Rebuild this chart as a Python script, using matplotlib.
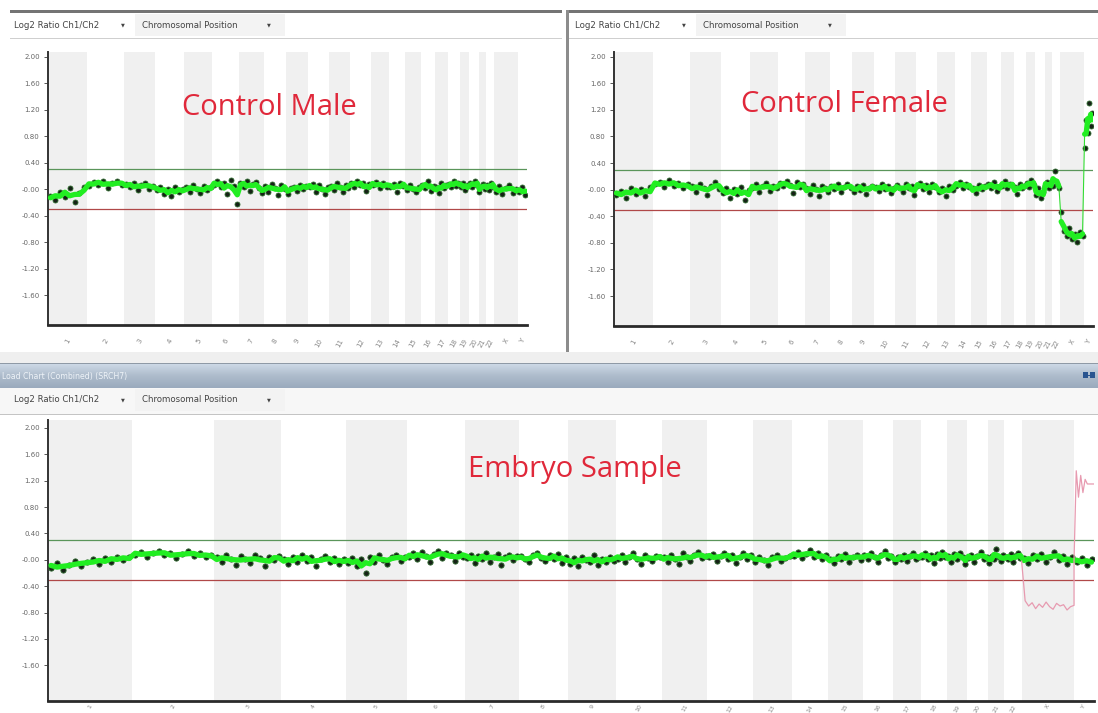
import numpy as np
import pandas as pd
import matplotlib
matplotlib.use("Agg")
import matplotlib.pyplot as plt
from matplotlib.patches import Rectangle

# ---------------- data ----------------
chrom_names = [str(i) for i in range(1, 23)] + ["X", "Y"]
chrom_sizes_mb = [249, 243, 198, 191, 181, 171, 159, 146, 141, 136, 135, 134,
                  115, 107, 103, 90, 81, 78, 59, 63, 48, 51, 155, 59]
ytick_values = [2.0, 1.6, 1.2, 0.8, 0.4, 0.0, -0.4, -0.8, -1.2, -1.6]
ytick_labels = ["2.00", "1.60", "1.20", "0.80", "0.40", "-0.00",
                "-0.40", "-0.80", "-1.20", "-1.60"]
upper_threshold = 0.3
lower_threshold = -0.3

male_log2 = [
    [-0.10, -0.16, -0.04, -0.12, 0.02, -0.20, -0.06, 0.03],
    [0.05, 0.11, 0.07, 0.13, 0.02, 0.09, 0.12, 0.06],
    [0.08, 0.03, 0.10, -0.02, 0.06, 0.09, 0.01, 0.05],
    [-0.02, 0.04, -0.07, 0.01, -0.10, 0.03, -0.05, 0.00],
    [0.03, -0.04, 0.07, 0.00, -0.06, 0.05, -0.02, 0.04],
    [0.06, 0.12, 0.03, 0.10, -0.08, 0.14, 0.05, -0.22],
    [0.09, 0.04, 0.13, -0.03, 0.08, 0.11, 0.02, -0.06],
    [0.05, -0.05, 0.08, 0.02, -0.09, 0.06, 0.01],
    [-0.08, 0.02, 0.04, -0.03, 0.07, 0.00, 0.05],
    [0.03, 0.08, -0.04, 0.06, 0.01, -0.07, 0.04],
    [0.05, -0.02, 0.09, 0.03, -0.05, 0.07, 0.02],
    [0.10, 0.04, 0.12, 0.06, 0.09, -0.03, 0.08],
    [0.06, 0.11, 0.02, 0.09, 0.04],
    [0.03, 0.08, -0.04, 0.10, 0.05],
    [-0.02, 0.06, 0.01, -0.05, 0.04],
    [0.07, 0.02, 0.12, -0.03, 0.05],
    [0.04, -0.06, 0.09, 0.02, 0.06],
    [0.08, 0.03, 0.13, 0.05, 0.10],
    [0.04, 0.10, -0.02, 0.07],
    [0.09, 0.03, 0.12, 0.06],
    [-0.05, 0.04, 0.08, 0.01],
    [0.06, -0.02, 0.10, 0.04],
    [-0.04, 0.05, -0.08, 0.02, 0.07, -0.06, 0.01],
    [-0.05, 0.03, -0.09],
]

female_log2 = [
    [-0.08, -0.02, -0.12, 0.03, -0.06, 0.01, -0.10, 0.04],
    [0.08, 0.12, 0.04, 0.15, 0.06, 0.10, 0.02, 0.09],
    [0.06, -0.03, 0.09, 0.02, -0.08, 0.05, 0.11, 0.01],
    [-0.05, 0.03, -0.12, 0.01, -0.06, 0.04, -0.15, 0.00],
    [0.02, 0.08, -0.04, 0.06, 0.10, -0.02, 0.05, 0.03],
    [0.10, 0.05, 0.13, 0.07, -0.05, 0.11, 0.04, 0.09],
    [0.03, -0.06, 0.07, 0.01, -0.09, 0.05, 0.02, -0.03],
    [0.06, 0.01, 0.09, -0.04, 0.04, 0.08, 0.02],
    [-0.03, 0.05, 0.00, 0.07, -0.06, 0.03, 0.06],
    [0.04, -0.02, 0.08, 0.01, 0.06, -0.05, 0.03],
    [0.07, 0.02, -0.04, 0.09, 0.03, 0.05, -0.08],
    [0.05, 0.10, 0.01, 0.07, -0.03, 0.08, 0.04],
    [-0.04, 0.03, -0.09, 0.05, 0.00],
    [0.06, 0.12, 0.02, 0.09, 0.04],
    [0.03, -0.05, 0.07, 0.01, 0.05],
    [0.08, 0.03, 0.11, -0.02, 0.06],
    [0.05, 0.13, 0.02, 0.09, 0.07],
    [0.04, -0.06, 0.08, 0.02, 0.06],
    [0.10, 0.04, 0.14, 0.07],
    [-0.08, 0.02, -0.12, -0.03],
    [0.06, 0.12, 0.03, 0.09],
    [0.05, 0.28, 0.08, 0.02],
    [-0.34, -0.62, -0.70, -0.58, -0.74, -0.66, -0.78, -0.64, -0.69],
    [0.62, 1.05, 0.85, 1.30, 0.95, 1.15],
]

embryo_log2 = [
    [-0.12, -0.05, -0.16, -0.08, -0.02, -0.10, -0.04, 0.01, -0.07, 0.03, -0.03, 0.05, 0.00, 0.04],
    [0.08, 0.12, 0.05, 0.10, 0.14, 0.07, 0.11, 0.03, 0.09, 0.13, 0.06, 0.10, 0.04, 0.08],
    [0.05, -0.04, 0.08, 0.02, -0.08, 0.06, 0.01, -0.05, 0.07, 0.03, -0.10, 0.04, 0.00, 0.06],
    [0.02, -0.06, 0.05, -0.03, 0.08, -0.02, 0.04, -0.09, 0.01, 0.06, -0.04, 0.03, -0.07, 0.02],
    [-0.05, 0.03, -0.10, 0.02, -0.20, 0.05, -0.03, 0.07, 0.00, -0.06, 0.04, 0.08, -0.02, 0.05],
    [0.04, 0.10, 0.01, 0.12, 0.06, -0.04, 0.09, 0.14, 0.03, 0.11, 0.07, -0.02, 0.10, 0.05],
    [0.03, 0.08, -0.05, 0.06, 0.01, 0.10, -0.03, 0.05, 0.09, -0.08, 0.04, 0.07, 0.00, 0.06],
    [0.06, 0.02, -0.04, 0.08, 0.11, 0.03, -0.02, 0.07, 0.01, 0.09, -0.05, 0.04],
    [-0.06, 0.03, -0.10, 0.05, 0.00, -0.04, 0.07, -0.08, 0.02, -0.03, 0.04, -0.01],
    [0.02, 0.07, -0.03, 0.05, 0.10, 0.01, -0.06, 0.08, 0.03, -0.02, 0.06, 0.04],
    [0.05, -0.03, 0.08, 0.02, -0.06, 0.10, 0.04, -0.01, 0.07, 0.12, 0.03, 0.06],
    [0.04, 0.09, -0.02, 0.06, 0.11, 0.01, 0.08, -0.05, 0.05, 0.10, 0.02, 0.07],
    [-0.03, 0.05, 0.00, -0.08, 0.04, 0.07, -0.02, 0.03, 0.06],
    [0.06, 0.12, 0.03, 0.09, 0.15, 0.04, 0.10, 0.01, 0.07],
    [0.02, -0.05, 0.06, 0.01, 0.09, -0.03, 0.05, 0.08, 0.00],
    [0.07, 0.02, 0.11, 0.04, -0.04, 0.08, 0.13, 0.03, 0.06],
    [-0.04, 0.05, 0.01, 0.08, -0.02, 0.06, 0.10, 0.02, 0.05],
    [0.05, 0.10, 0.02, 0.07, -0.05, 0.09, 0.03, 0.12, 0.04],
    [0.06, -0.03, 0.09, 0.02, 0.11, 0.04, -0.06],
    [0.03, 0.08, -0.04, 0.06, 0.12, 0.01, 0.05],
    [-0.05, 0.06, 0.02, 0.16, 0.04, -0.02, 0.07],
    [0.05, 0.01, 0.09, -0.04, 0.06, 0.10, 0.03],
    [0.03, -0.05, 0.07, 0.01, 0.09, -0.03, 0.05, 0.12, 0.00, 0.06, -0.06, 0.04],
    [-0.04, 0.03, -0.08, 0.01],
]

# reference overlay (pink trace) on the sex chromosomes of the embryo panel
overlay_x_log2 = [-0.02, -0.62, -0.70, -0.65, -0.74, -0.67, -0.72, -0.64,
                  -0.71, -0.75, -0.66, -0.70, -0.68, -0.76, -0.71, -0.69]
overlay_y_log2 = [0.0, 1.35, 0.95, 1.28, 1.02, 1.22, 1.15, 1.15, 1.15, 1.15]

panel_titles = ["Control Male", "Control Female", "Embryo Sample"]

# ---------------- helpers ----------------
W, H = 1098, 713
sizes = np.array(chrom_sizes_mb, dtype=float)
starts = np.concatenate([[0], np.cumsum(sizes)[:-1]])
genome_len = sizes.sum()
centers = starts + sizes / 2


def positions(values_by_chrom):
    xs, ys, smooth = [], [], []
    for i, vals in enumerate(values_by_chrom):
        n = len(vals)
        x = starts[i] + (np.arange(n) + 0.5) / n * sizes[i]
        xs.append(x)
        ys.append(np.array(vals))
        smooth.append(pd.Series(vals).rolling(3, center=True, min_periods=1).mean().values)
    return np.concatenate(xs), np.concatenate(ys), np.concatenate(smooth)


def px_axes(fig, x0, y0, x1, y1):
    return fig.add_axes([x0 / W, 1 - y1 / H, (x1 - x0) / W, (y1 - y0) / H])


def style_chart(ax, ylim, xpad=9, xsize=5.0):
    ax.set_facecolor("white")
    ax.set_xlim(0, genome_len)
    ax.set_ylim(*ylim)
    for i in range(len(sizes)):
        if i % 2 == 0:
            ax.axvspan(starts[i], starts[i] + sizes[i], color="#f0f0f0", lw=0, zorder=0)
    ax.axhline(upper_threshold, color="#5a955a", lw=0.9, zorder=2)
    ax.axhline(lower_threshold, color="#b04848", lw=0.9, zorder=2)
    ax.set_yticks(ytick_values)
    ax.set_yticklabels(ytick_labels)
    ax.set_xticks(centers)
    ax.set_xticklabels(chrom_names, rotation=60, ha="center", va="top")
    ax.tick_params(axis="y", length=3, width=0.7, color="#555555", labelsize=5,
                   labelcolor="#666666", pad=3)
    ax.tick_params(axis="x", length=0, labelsize=xsize, labelcolor="#888888", pad=xpad)
    for s in ("top", "right"):
        ax.spines[s].set_visible(False)
    ax.spines["left"].set_color("#333333")
    ax.spines["left"].set_linewidth(1.4)
    ax.spines["bottom"].set_color("#2a2a2a")
    ax.spines["bottom"].set_linewidth(2.0)


def draw_series(ax, values_by_chrom, msize=3.6):
    x, y, sm = positions(values_by_chrom)
    ax.plot(x, y, ls="none", marker="o", ms=msize, mfc="#162216", mec="#2f6a2f",
            mew=0.6, zorder=3)
    ax.plot(x, sm, color="#33dd33", lw=0.8, zorder=4)
    thick = sm.copy().astype(float)
    jumps = np.where(np.abs(np.diff(sm)) > 0.25)[0]
    xs_t = np.insert(x.astype(float), jumps + 1, np.nan)
    thick = np.insert(thick, jumps + 1, np.nan)
    ax.plot(xs_t, thick, color="#22ee22", lw=3.8, zorder=5, solid_capstyle="round")


# ---------------- figure ----------------
fig = plt.figure(figsize=(W / 100, H / 100), dpi=100)
fig.patch.set_facecolor("white")

bg = fig.add_axes([0, 0, 1, 1])
bg.set_xlim(0, W)
bg.set_ylim(H, 0)
bg.axis("off")

ui_font = "DejaVu Sans"
# top panels frame
bg.add_patch(Rectangle((10, 9.5), 552, 3, color="#747474", lw=0))
bg.add_patch(Rectangle((566, 9.5), 532, 3, color="#747474", lw=0))
bg.add_patch(Rectangle((566, 9.5), 3, 345, color="#8c8c8c", lw=0))
for x0, x1 in ((10, 562), (569, 1098)):
    bg.add_patch(Rectangle((x0, 38), x1 - x0, 1.2, color="#cfcfcf", lw=0))


def toolbar(x, y):
    bg.add_patch(Rectangle((x + 121, y - 11), 150, 22, color="#f3f3f3", lw=0, zorder=2))
    bg.text(x, y, "Log2 Ratio Ch1/Ch2", fontsize=6.2, color="#444444", va="center",
            family=ui_font, zorder=3)
    bg.text(x + 107, y, "▼", fontsize=3.6, color="#444444", va="center",
            family=ui_font, zorder=3)
    bg.text(x + 128, y, "Chromosomal Position", fontsize=6.2, color="#444444",
            va="center", family=ui_font, zorder=3)
    bg.text(x + 253, y, "▼", fontsize=3.6, color="#444444", va="center",
            family=ui_font, zorder=3)


toolbar(14, 25)
toolbar(575, 25)

# grey strip between top and bottom panels
bg.add_patch(Rectangle((0, 352), W, 11, color="#efefef", lw=0))
# title bar with gradient
grad = np.linspace(0, 1, 50).reshape(-1, 1)
bg.imshow(grad, extent=(0, W, 388, 363), cmap=matplotlib.colors.LinearSegmentedColormap.from_list(
    "tb", ["#cfdbe8", "#aebccc", "#9aaabd"]), aspect="auto", zorder=1)
bg.add_patch(Rectangle((0, 362.5), W, 1.2, color="#8f9aa6", lw=0, zorder=2))
bg.text(2, 376, "Load Chart (Combined) (SRCH7)", fontsize=5.6, color="#eef3f8",
        va="center", family=ui_font, zorder=3)
bg.add_patch(Rectangle((1083, 372), 4.5, 6, color="#2a5590", lw=0, zorder=3))
bg.add_patch(Rectangle((1090, 372), 4.5, 6, color="#2a5590", lw=0, zorder=3))
bg.add_patch(Rectangle((1087, 374.5), 3, 1.2, color="#2a5590", lw=0, zorder=3))
bg.add_patch(Rectangle((0, 388), W, 26, color="#f7f7f7", lw=0, zorder=1))
bg.add_patch(Rectangle((0, 413.5), W, 1.4, color="#c4c4c4", lw=0, zorder=2))
toolbar(14, 400)

# ---------------- charts ----------------
ax1 = px_axes(fig, 48, 52, 527, 325)
style_chart(ax1, (-2.05, 2.07))
draw_series(ax1, male_log2)

ax2 = px_axes(fig, 614, 52, 1093, 326)
style_chart(ax2, (-2.05, 2.07))
draw_series(ax2, female_log2)

ax3 = px_axes(fig, 48, 420, 1094, 701)
style_chart(ax3, (-2.14, 2.12), xpad=2, xsize=4.5)
draw_series(ax3, embryo_log2, msize=3.8)

# pink overlay on X and Y
ix, iy = 22, 23
ox = starts[ix] + np.arange(len(overlay_x_log2)) / (len(overlay_x_log2) - 1) * sizes[ix]
oy = starts[iy] + np.arange(len(overlay_y_log2)) / (len(overlay_y_log2) - 1) * sizes[iy]
ax3.plot(np.concatenate([ox, oy]), overlay_x_log2 + overlay_y_log2,
         color="#e79ab0", lw=0.9, zorder=6)

title_kw = dict(fontsize=21, color="#e0283a", family="Open Sans", ha="center", va="center")
ax1.text(0.463, 0.795, panel_titles[0], transform=ax1.transAxes, **title_kw)
ax2.text(0.482, 0.807, panel_titles[1], transform=ax2.transAxes, **title_kw)
ax3.text(0.504, 0.824, panel_titles[2], transform=ax3.transAxes, **title_kw)

fig.savefig("out.png", dpi=100)
